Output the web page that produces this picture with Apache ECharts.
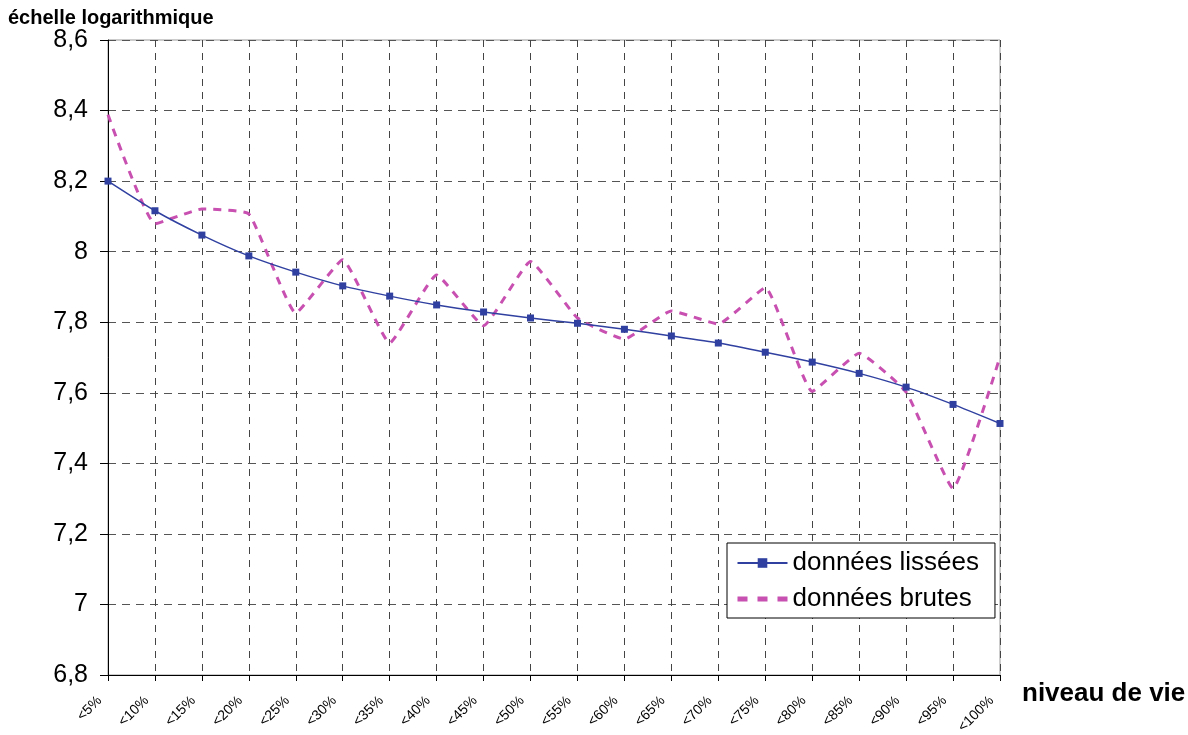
<!DOCTYPE html>
<html>
<head>
<meta charset="utf-8">
<script src="https://cdn.jsdelivr.net/npm/echarts@6/dist/echarts.min.js"></script>
<style>
  html, body { margin: 0; padding: 0; background: #fff; }
  #main { width: 1188px; height: 735px; }
</style>
</head>
<body>
<div id="main"></div>
<script>
// catégories (déciles de niveau de vie)
var categories = ['<5%', '<10%', '<15%', '<20%', '<25%', '<30%', '<35%', '<40%', '<45%', '<50%',
                  '<55%', '<60%', '<65%', '<70%', '<75%', '<80%', '<85%', '<90%', '<95%', '<100%'];
// données lissées
var lissees = [8.20, 8.116, 8.047, 7.988, 7.942, 7.903, 7.874, 7.849, 7.829, 7.812,
               7.797, 7.780, 7.761, 7.741, 7.715, 7.687, 7.655, 7.616, 7.567, 7.513];
// données brutes
var brutes = [8.388, 8.079, 8.121, 8.107, 7.826, 7.977, 7.741, 7.934, 7.790, 7.972,
              7.812, 7.752, 7.832, 7.795, 7.898, 7.604, 7.712, 7.602, 7.329, 7.702];
// axe vertical
var yMin = 6.8, yMax = 8.6, yStep = 0.2;

var font = '"Liberation Sans", Arial, sans-serif';
var bleu = '#3040a0', rose = '#c850b0';
var myChart = echarts.init(document.getElementById('main'));

myChart.setOption({
    animation: false,
    textStyle: { fontFamily: font },
    grid: {
        left: 108, right: 188, top: 40, bottom: 60,
        outerBoundsMode: 'none',
        show: true, borderColor: '#999', borderWidth: 1
    },
    graphic: [
        { type: 'text', left: 8, top: 8,
          style: { text: 'échelle logarithmique', font: 'bold 20px ' + font, fill: '#000' } },
        { type: 'text', left: 1022, top: 681,
          style: { text: 'niveau de vie', font: 'bold 26px ' + font, fill: '#000' } }
    ],
    legend: {
        orient: 'vertical',
        left: 727, top: 543,
        itemWidth: 50, itemHeight: 12, itemGap: 10,
        padding: [7, 16, 6, 8],
        backgroundColor: '#fff',
        borderColor: '#000', borderWidth: 1,
        textStyle: { fontSize: 26, color: '#000', fontFamily: font },
        data: [
            { name: 'données lissées' },
            { name: 'données brutes', itemStyle: { opacity: 0 },
              lineStyle: { width: 5, type: [10, 10], color: rose } }
        ]
    },
    xAxis: {
        type: 'category',
        data: categories,
        boundaryGap: false,
        axisLine: { lineStyle: { color: '#000', width: 1 } },
        axisTick: { show: true, length: 6, lineStyle: { color: '#000' } },
        axisLabel: { rotate: 45, fontSize: 14, color: '#000', margin: 15, interval: 0,
                     padding: [0, 12, 0, 0] },
        splitLine: { show: true, lineStyle: { color: '#444', type: [7, 6], width: 1 } }
    },
    yAxis: {
        type: 'value',
        min: yMin, max: yMax, interval: yStep,
        axisLine: { show: true, lineStyle: { color: '#000', width: 1 } },
        axisTick: { show: true, length: 8, lineStyle: { color: '#000' } },
        axisLabel: {
            fontSize: 25, color: '#000', margin: 20,
            formatter: function (v) { return String(Number(v.toFixed(1))).replace('.', ','); }
        },
        splitLine: { show: true, lineStyle: { color: '#555', type: [8, 6], width: 1 } }
    },
    series: [
        {
            name: 'données lissées',
            type: 'line',
            data: lissees,
            smooth: 0.2,
            symbol: 'rect',
            symbolSize: 7,
            showAllSymbol: true,
            itemStyle: { color: bleu },
            lineStyle: { color: bleu, width: 1.5 },
            z: 3
        },
        {
            name: 'données brutes',
            type: 'line',
            data: brutes,
            smooth: 0.12,
            symbol: 'none',
            itemStyle: { color: rose },
            lineStyle: { color: rose, width: 3, type: [8, 7] },
            z: 2
        }
    ]
});
</script>
</body>
</html>
